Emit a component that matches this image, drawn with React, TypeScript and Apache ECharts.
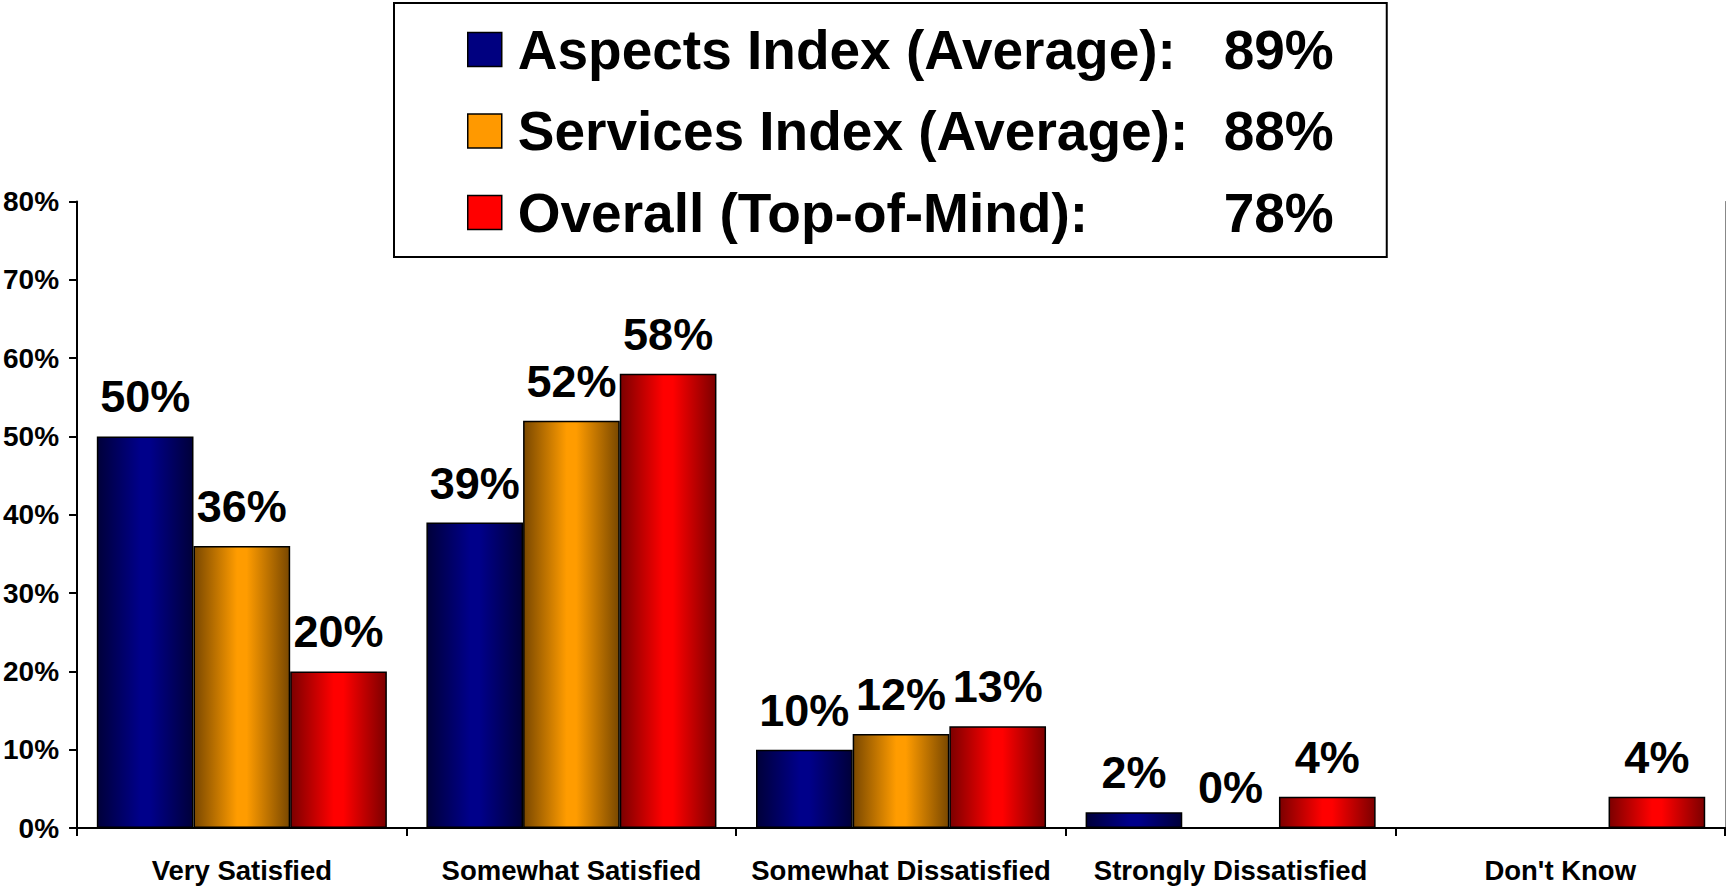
import React, { useEffect, useRef } from "react";
import * as echarts from "echarts";

const categories = ["Very Satisfied", "Somewhat Satisfied", "Somewhat Dissatisfied", "Strongly Dissatisfied", "Don't Know"];
const seriesNames = ["Aspects Index (Average):", "Services Index (Average):", "Overall (Top-of-Mind):"];
const legendValues = [89, 88, 78];
const aspectsValues: (number | null)[] = [50, 39, 10, 2, null];
const servicesValues: (number | null)[] = [36, 52, 12, 0, null];
const overallValues: (number | null)[] = [20, 58, 13, 4, 4];
const yTicks = { min: 0, max: 80, interval: 10 };

const FONT = "'Liberation Sans', Arial, Helvetica, sans-serif";

const palettes = [
  { edge: "#00003a", mid: "#00008a", flat: "#000080" },
  { edge: "#7a4800", mid: "#ff9c00", flat: "#ff9900" },
  { edge: "#7c0000", mid: "#ff0000", flat: "#ff0000" },
];

function grad(p: { edge: string; mid: string }) {
  return new echarts.graphic.LinearGradient(0, 0, 1, 0, [
    { offset: 0, color: p.edge },
    { offset: 0.45, color: p.mid },
    { offset: 0.55, color: p.mid },
    { offset: 1, color: p.edge },
  ]);
}

export default function App() {
  const ref = useRef<HTMLDivElement>(null);
  useEffect(() => {
    document.body.style.margin = "0";
    const chart = echarts.init(ref.current!, null, { renderer: "svg" });
    const allValues = [aspectsValues, servicesValues, overallValues];
    const series = seriesNames.map((name, i) => ({
      name,
      type: "bar",
      xAxisIndex: 0,
      yAxisIndex: 0,
      data: allValues[i].map((v) => (v === null ? "-" : v)),
      barGap: "0%",
      barCategoryGap: "12%",
      itemStyle: { color: grad(palettes[i]), borderColor: "#000", borderWidth: 1.5 },
      label: {
        show: true,
        position: "top",
        distance: 17,
        formatter: "{c}%",
        fontSize: 45,
        fontWeight: "bold",
        fontFamily: FONT,
        color: "#000",
      },
    }));
    chart.setOption({
      animation: false,
      backgroundColor: "#fff",
      grid: { left: 77, right: 1, top: 201.5, bottom: 58, containLabel: false },
      legend: {
        orient: "vertical",
        left: 394,
        top: 3,
        padding: [19, 53, 17, 73],
        itemWidth: 34,
        itemHeight: 34,
        itemGap: 26.5,
        icon: "rect",
        backgroundColor: "#fff",
        borderColor: "#000",
        borderWidth: 2,
        data: seriesNames.map((n, i) => ({
          name: n,
          itemStyle: { color: palettes[i].flat, borderColor: "#000", borderWidth: 1.5 },
        })),
        formatter: (name: string) => {
          const i = seriesNames.indexOf(name);
          return `{g|}{n|${name}}{v|${legendValues[i]}%}`;
        },
        textStyle: {
          rich: {
            g: { width: 11, height: 56 },
            n: { width: 703, fontSize: 55, fontWeight: "bold", fontFamily: FONT, color: "#000", lineHeight: 56 },
            v: { width: 113, align: "right", fontSize: 55, fontWeight: "bold", fontFamily: FONT, color: "#000", lineHeight: 56 },
          },
        },
      },
      xAxis: [
        {
          type: "category",
          data: categories,
          position: "bottom",
          axisLine: { show: true, lineStyle: { color: "#000", width: 2 } },
          axisTick: { show: true, length: 8, alignWithLabel: false, lineStyle: { color: "#000", width: 2 } },
          axisLabel: { fontSize: 27.5, fontWeight: "bold", fontFamily: FONT, color: "#000", margin: 28, interval: 0 },
        },
        {
          type: "category",
          data: categories,
          position: "top",
          axisLine: { show: true, lineStyle: { color: "#000", width: 2 } },
          axisTick: { show: false },
          axisLabel: { show: false },
        },
      ],
      yAxis: [
        {
          type: "value",
          min: yTicks.min,
          max: yTicks.max,
          interval: yTicks.interval,
          position: "left",
          axisLine: { show: true, lineStyle: { color: "#000", width: 2 } },
          axisTick: { show: true, length: 8, lineStyle: { color: "#000", width: 2 } },
          splitLine: { show: false },
          axisLabel: { formatter: "{value}%", fontSize: 28, fontWeight: "bold", fontFamily: FONT, color: "#000", margin: 18 },
        },
        {
          type: "value",
          min: yTicks.min,
          max: yTicks.max,
          interval: yTicks.interval,
          position: "right",
          axisLine: { show: true, lineStyle: { color: "#888", width: 1 } },
          axisTick: { show: false },
          axisLabel: { show: false },
          splitLine: { show: false },
        },
      ],
      series,
    });
    return () => chart.dispose();
  }, []);
  return <div ref={ref} style={{ position: "absolute", left: 0, top: 0, width: 1726, height: 886 }} />;
}
